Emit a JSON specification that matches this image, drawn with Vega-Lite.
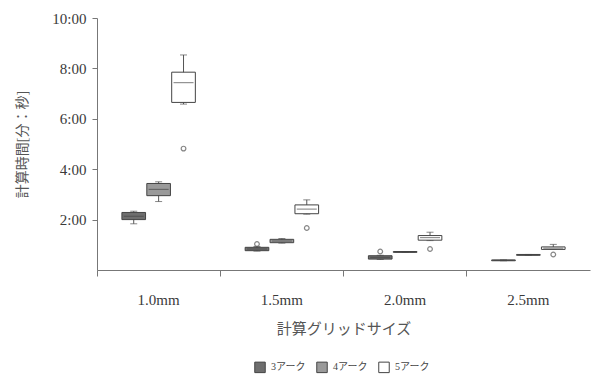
{
  "$schema": "https://vega.github.io/schema/vega-lite/v6.json",
  "autosize": {"type": "none"},
  "width": 493,
  "height": 252,
  "padding": {"left": 97, "top": 18, "right": 1, "bottom": 113},
  "background": "white",
  "config": {
    "view": {"stroke": null},
    "font": "Liberation Serif, Noto Sans CJK JP",
    "axis": {"labelFont": "Liberation Serif, Noto Sans CJK JP", "titleFont": "Liberation Serif, Noto Sans CJK JP", "domainColor": "#777", "tickColor": "#777", "labelColor": "#3a3a3a", "titleColor": "#555", "grid": false},
    "legend": {"labelFont": "Liberation Serif, Noto Sans CJK JP"}
  },
  "datasets": {
    "boxes": [
      {"grid": "1.0mm", "arc": "3アーク", "min": 110, "q1": 120, "median": 128, "q3": 137, "max": 140},
      {"grid": "1.0mm", "arc": "4アーク", "min": 163, "q1": 177, "median": 192, "q3": 206, "max": 210},
      {"grid": "1.0mm", "arc": "5アーク", "min": 395, "q1": 399, "median": 446, "q3": 471, "max": 512},
      {"grid": "1.5mm", "arc": "3アーク", "min": 45, "q1": 46, "median": 50, "q3": 54, "max": 56},
      {"grid": "1.5mm", "arc": "4アーク", "min": 64, "q1": 65, "median": 69, "q3": 73, "max": 75},
      {"grid": "1.5mm", "arc": "5アーク", "min": 133, "q1": 134, "median": 145, "q3": 155, "max": 167},
      {"grid": "2.0mm", "arc": "3アーク", "min": 25, "q1": 26, "median": 30, "q3": 34, "max": 35},
      {"grid": "2.0mm", "arc": "4アーク", "min": 42, "q1": 42, "median": 43, "q3": 44, "max": 44},
      {"grid": "2.0mm", "arc": "5アーク", "min": 70, "q1": 71, "median": 77, "q3": 82, "max": 90},
      {"grid": "2.5mm", "arc": "3アーク", "min": 22, "q1": 22, "median": 23, "q3": 24, "max": 24},
      {"grid": "2.5mm", "arc": "4アーク", "min": 35, "q1": 35, "median": 36, "q3": 37, "max": 37},
      {"grid": "2.5mm", "arc": "5アーク", "min": 49, "q1": 49, "median": 52, "q3": 55, "max": 61}
    ],
    "outliers": [
      {"grid": "1.0mm", "arc": "5アーク", "value": 289},
      {"grid": "1.5mm", "arc": "3アーク", "value": 62},
      {"grid": "1.5mm", "arc": "5アーク", "value": 100},
      {"grid": "2.0mm", "arc": "3アーク", "value": 44},
      {"grid": "2.0mm", "arc": "5アーク", "value": 50},
      {"grid": "2.5mm", "arc": "5アーク", "value": 37}
    ]
  },
  "encoding": {
    "x": {
      "field": "grid", "type": "nominal",
      "scale": {"paddingInner": 0, "paddingOuter": 0},
      "axis": {"title": "計算グリッドサイズ", "labelAngle": 0, "bandPosition": 0, "labelFontSize": 15, "titleFontSize": 15, "labelPadding": 16, "titlePadding": 14, "tickSize": 6, "titleFontWeight": "normal"}
    },
    "xOffset": {
      "field": "arc", "type": "nominal",
      "scale": {"paddingInner": 0.05, "paddingOuter": 1.45}
    }
  },
  "layer": [
    {
      "data": {"name": "boxes"},
      "mark": {"type": "rule", "color": "#555", "strokeWidth": 1},
      "encoding": {
        "y": {"field": "min", "type": "quantitative", "scale": {"domain": [0, 600]},
          "axis": {"title": "計算時間[分：秒]", "values": [120, 240, 360, 480, 600], "labelExpr": "floor(datum.value/60) + ':00'", "labelFontSize": 15, "titleFontSize": 14, "titleFontWeight": "normal", "titlePadding": 22, "tickSize": 5, "labelPadding": 6}},
        "y2": {"field": "max"}
      }
    },
    {
      "data": {"name": "boxes"},
      "mark": {"type": "tick", "orient": "horizontal", "size": 7, "thickness": 1, "color": "#555"},
      "encoding": {"y": {"field": "max", "type": "quantitative"}}
    },
    {
      "data": {"name": "boxes"},
      "mark": {"type": "tick", "orient": "horizontal", "size": 7, "thickness": 1, "color": "#555"},
      "encoding": {"y": {"field": "min", "type": "quantitative"}}
    },
    {
      "data": {"name": "boxes"},
      "mark": {"type": "bar", "stroke": "#444", "strokeWidth": 1, "opacity": 1},
      "encoding": {
        "y": {"field": "q1", "type": "quantitative"},
        "y2": {"field": "q3"},
        "fill": {"field": "arc", "type": "nominal",
          "scale": {"domain": ["3アーク", "4アーク", "5アーク"], "range": ["#6e6e6e", "#9a9a9a", "#ffffff"]},
          "legend": {"title": null, "orient": "none", "legendX": 157, "legendY": 343, "direction": "horizontal", "symbolType": "square", "symbolSize": 110, "symbolStrokeColor": "#444", "symbolStrokeWidth": 1, "labelFontSize": 10, "labelOffset": 5, "labelColor": "#444", "columnPadding": 8}}
      }
    },
    {
      "data": {"name": "boxes"},
      "mark": {"type": "tick", "orient": "horizontal", "size": 20, "thickness": 1, "color": "#444"},
      "encoding": {"y": {"field": "median", "type": "quantitative"}}
    },
    {
      "data": {"name": "outliers"},
      "mark": {"type": "point", "shape": "circle", "size": 22, "filled": false, "color": "#555", "strokeWidth": 1.2},
      "encoding": {"y": {"field": "value", "type": "quantitative"}}
    }
  ]
}
